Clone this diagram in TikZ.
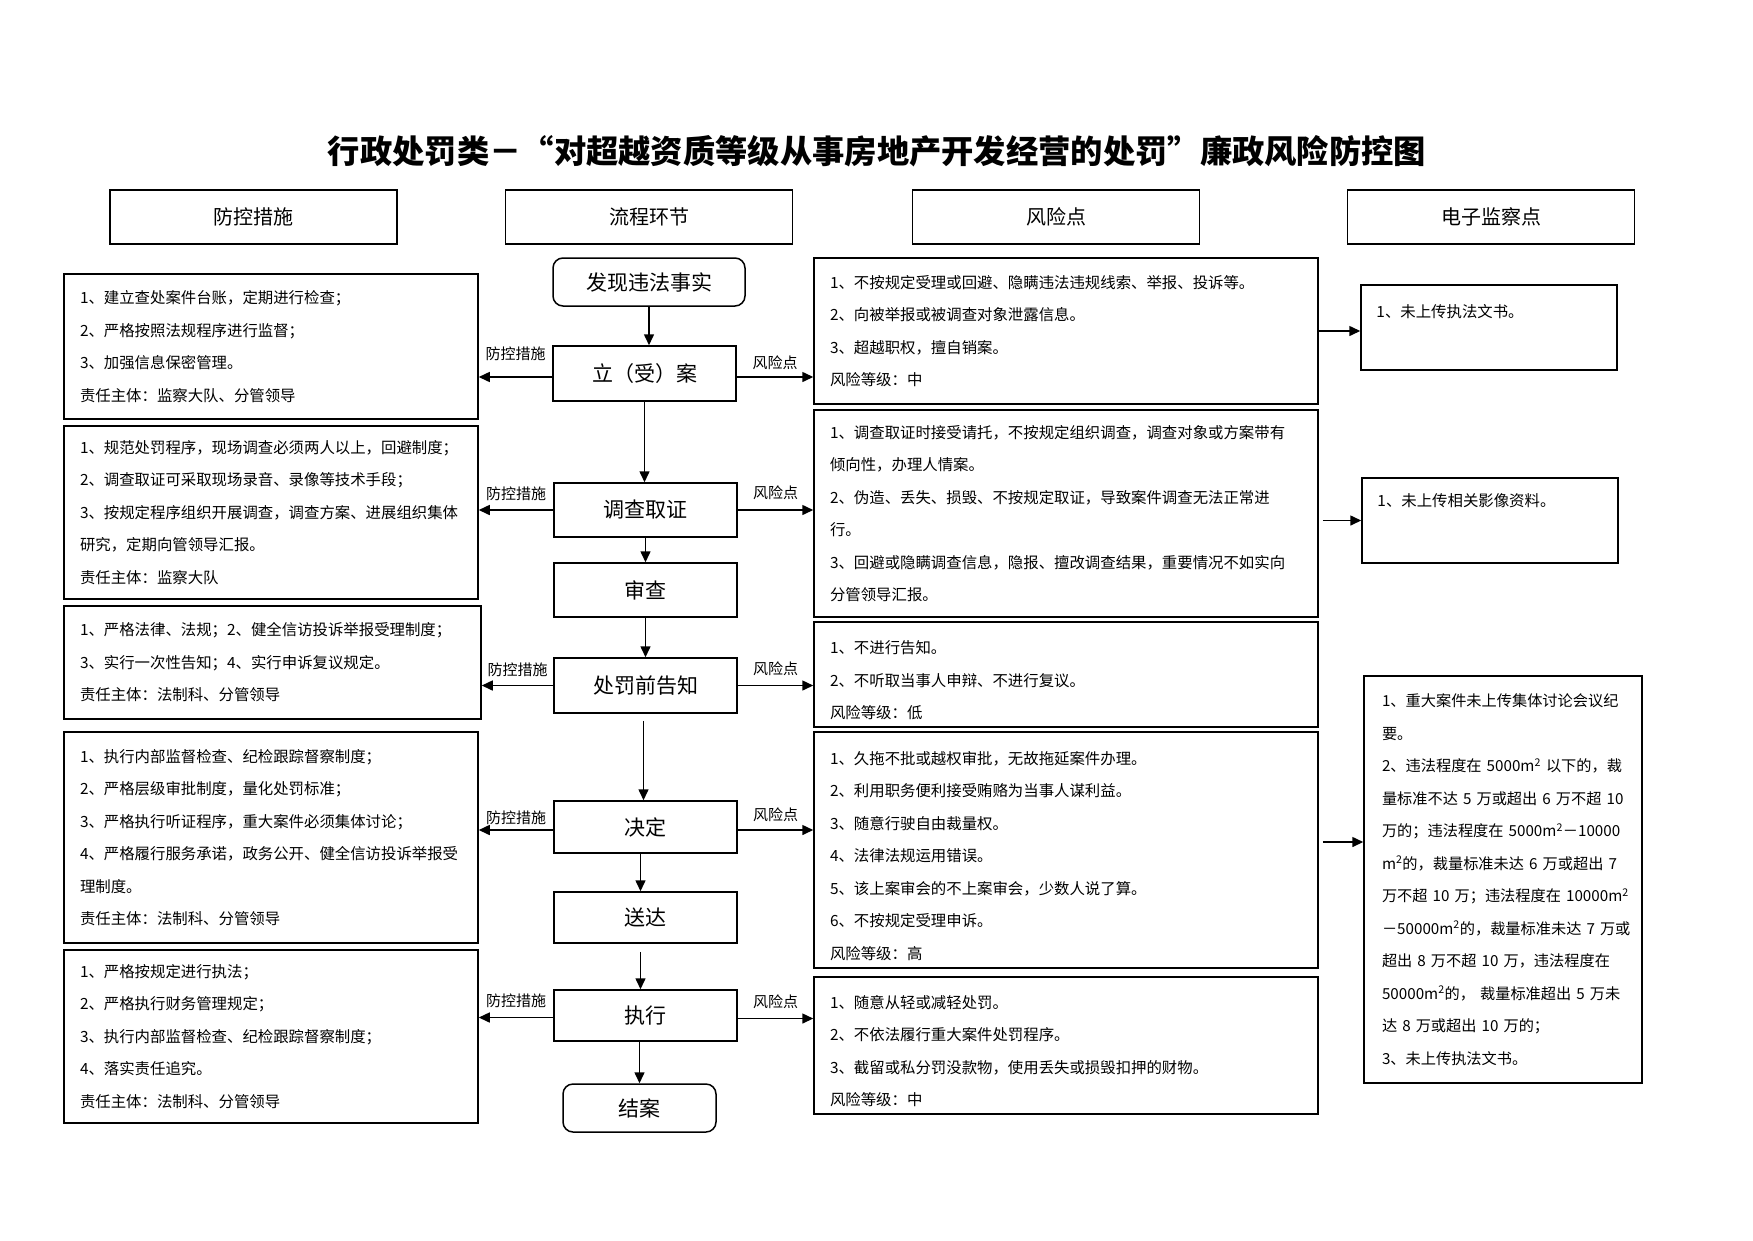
\documentclass[tikz,border=0pt]{standalone}
\usepackage{fontspec}
\setmainfont{Noto Sans CJK SC}
\usetikzlibrary{arrows.meta,calc}
\newcommand{\bodyfs}{\fontsize{15.4}{32.5}\selectfont}
\newcommand{\msq}{m\textsuperscript{2}}
\newcommand{\dn}{\rule{0pt}{24.5pt}}
\tikzset{
 tbox/.style={draw, line width=1.5pt, inner xsep=16pt, inner ysep=0pt, align=left, font=\bodyfs},
 ebox/.style={draw, line width=1.5pt, minimum width=256pt, minimum height=85pt},
 hbox/.style={draw, line width=1.4pt, minimum width=287pt, minimum height=54pt, font=\fontsize{20}{24}\selectfont},
 flow/.style={draw, line width=1.5pt, minimum width=183pt, minimum height=53pt, font=\fontsize{21}{25}\selectfont},
 rflow/.style={flow, rounded corners=10pt},
 arr/.style={line width=1.5pt, -{Triangle[length=11pt,width=10pt]}},
 lbl/.style={font=\fontsize{15}{18}\selectfont, inner sep=0pt},
}
\begin{document}
\begin{tikzpicture}[x=1pt,y=-1pt]
\fill[white] (0,0) rectangle (1753,1240);
\useasboundingbox (0,0) rectangle (1753,1240);

% title
\node[font=\fontsize{32.3}{36}\selectfont\bfseries] (title) at (877,151) {行政处罚类－“对超越资质等级从事房地产开发经营的处罚”廉政风险防控图};

% headers
\node[hbox] (h1) at (253.5,217) {防控措施};
\node[hbox] (h2) at (649,217) {流程环节};
\node[hbox] (h3) at (1056,217) {风险点};
\node[hbox] (h4) at (1491,217) {电子监察点};

% flow
\node[rflow, minimum width=192pt, minimum height=48pt] (f0) at (649,282) {发现违法事实};
\node[flow, minimum height=55pt] (f1) at (644.5,373.5) {立（受）案};
\node[flow, minimum height=54pt] (f2) at (645.5,510) {调查取证};
\node[flow, minimum height=54pt] (f3) at (645.5,590) {审查};
\node[flow, minimum height=55pt] (f4) at (645.5,685.5) {处罚前告知};
\node[flow, minimum height=52pt] (f5) at (645.5,827) {决定};
\node[flow, minimum height=51pt] (f6) at (645.5,917.5) {送达};
\node[flow, minimum height=51pt] (f7) at (645.5,1015.5) {执行};
\node[rflow, minimum width=153pt, minimum height=48pt] (f8) at (639.5,1108) {结案};

% left boxes
\node[tbox, text width=382pt, minimum height=145pt] (l1) at (271,346.5) {1、建立查处案件台账，定期进行检查；\\2、严格按照法规程序进行监督；\\3、加强信息保密管理。\\责任主体：监察大队、分管领导};
\node[tbox, text width=382pt, minimum height=173pt] (l2) at (271,512.5) {1、规范处罚程序，现场调查必须两人以上，回避制度；\\2、调查取证可采取现场录音、录像等技术手段；\\3、按规定程序组织开展调查，调查方案、进展组织集体\\研究，定期向管领导汇报。\\责任主体：监察大队};
\node[tbox, text width=385pt, minimum height=113pt] (l3) at (272.5,662.5) {1、严格法律、法规；2、健全信访投诉举报受理制度；\\3、实行一次性告知；4、实行申诉复议规定。\\责任主体：法制科、分管领导};
\node[tbox, text width=382pt, minimum height=211pt] (l4) at (271,837.5) {1、执行内部监督检查、纪检跟踪督察制度；\\2、严格层级审批制度，量化处罚标准；\\3、严格执行听证程序，重大案件必须集体讨论；\\4、严格履行服务承诺，政务公开、健全信访投诉举报受\\理制度。\\责任主体：法制科、分管领导};
\node[tbox, text width=382pt, minimum height=173pt] (l5) at (271,1036.5) {1、严格按规定进行执法；\\2、严格执行财务管理规定；\\3、执行内部监督检查、纪检跟踪督察制度；\\4、落实责任追究。\\责任主体：法制科、分管领导};

% right boxes
\node[tbox, text width=472pt, minimum height=146pt] (r1) at (1066,331) {1、不按规定受理或回避、隐瞒违法违规线索、举报、投诉等。\\2、向被举报或被调查对象泄露信息。\\3、超越职权，擅自销案。\\风险等级：中};
\node[tbox, text width=472pt, minimum height=207pt] (r2) at (1066,513.5) {1、调查取证时接受请托，不按规定组织调查，调查对象或方案带有\\倾向性，办理人情案。\\2、伪造、丢失、损毁、不按规定取证，导致案件调查无法正常进\\行。\\3、回避或隐瞒调查信息，隐报、擅改调查结果，重要情况不如实向\\分管领导汇报。};
\node[tbox, text width=472pt, minimum height=105pt] (r3) at (1066,674.5) {\dn 1、不进行告知。\\2、不听取当事人申辩、不进行复议。\\风险等级：低};
\node[tbox, text width=472pt, minimum height=236pt] (r4) at (1066,850) {\dn 1、久拖不批或越权审批，无故拖延案件办理。\\2、利用职务便利接受贿赂为当事人谋利益。\\3、随意行驶自由裁量权。\\4、法律法规运用错误。\\5、该上案审会的不上案审会，少数人说了算。\\6、不按规定受理申诉。\\风险等级：高};
\node[tbox, text width=472pt, minimum height=137pt] (r5) at (1066,1045.5) {\dn 1、随意从轻或减轻处罚。\\2、不依法履行重大案件处罚程序。\\3、截留或私分罚没款物，使用丢失或损毁扣押的财物。\\风险等级：中};

% e-supervision boxes
\node[ebox] (e1) at (1489,327.5) {};
\node[anchor=west, inner sep=0pt, font=\bodyfs] (e1t) at ($(e1.north west)+(16,27)$) {1、未上传执法文书。};
\node[ebox] (e2) at (1490,520.5) {};
\node[anchor=west, inner sep=0pt, font=\bodyfs] (e2t) at ($(e2.north west)+(16,23)$) {1、未上传相关影像资料。};
\node[tbox, inner xsep=18pt, text width=242pt, minimum height=407pt, font=\fontsize{15.2}{32.5}\selectfont] (e3) at (1503,879.5) {1、重大案件未上传集体讨论会议纪\\要。\\2、违法程度在~5000\msq{}~以下的，裁\\量标准不达~5~万或超出~6~万不超~10\\万的；违法程度在~5000\msq{}－10000\\\msq{}的，裁量标准未达~6~万或超出~7\\万不超~10~万；违法程度在~10000\msq\\－50000\msq{}的，裁量标准未达~7~万或\\超出~8~万不超~10~万，违法程度在\\50000\msq{}的，~裁量标准超出~5~万未\\达~8~万或超出~10~万的；\\3、未上传执法文书。};

% vertical flow arrows
\draw[arr] (f0.south) -- (f0.south |- f1.north);
\draw[arr] (f1.south) -- (f1.south |- f2.north);
\draw[arr] (f2.south) -- (f2.south |- f3.north);
\draw[arr] (f3.south) -- (f3.south |- f4.north);
\coordinate (v4) at ($(f4.south)+(-2,0)$);
\draw[arr, shorten <=7pt] (v4) -- (v4 |- f5.north);
\coordinate (v5) at ($(f5.south)+(-5,0)$);
\draw[arr] (v5) -- (v5 |- f6.north);
\coordinate (v6) at ($(f6.south)+(-5,0)$);
\draw[arr, shorten <=8pt] (v6) -- (v6 |- f7.north);
\draw[arr] (f8.north |- f7.south) -- (f8.north);

% horizontal arrows with labels
\coordinate (a1) at ($(f1.west)+(0,3.5)$);
\coordinate (b1) at ($(f1.east)+(0,3.5)$);
\draw[arr] (a1) -- (a1 -| l1.east) node[lbl, midway, above=15.5pt] {防控措施};
\draw[arr] (b1) -- (b1 -| r1.west) node[lbl, midway, above=6.5pt] {风险点};
\draw[arr] (f2.west) -- (f2.west -| l2.east) node[lbl, midway, above=8.5pt] {防控措施};
\draw[arr] (f2.east) -- (f2.east -| r2.west) node[lbl, midway, above=9.5pt] {风险点};
\draw[arr] (f4.west) -- (f4.west -| l3.east) node[lbl, midway, above=8.5pt] {防控措施};
\draw[arr] (f4.east) -- (f4.east -| r3.west) node[lbl, midway, above=9.5pt] {风险点};
\coordinate (a5) at ($(f5.west)+(0,3)$);
\coordinate (b5) at ($(f5.east)+(0,3)$);
\draw[arr] (a5) -- (a5 -| l4.east) node[lbl, midway, above=4.5pt] {防控措施};
\draw[arr] (b5) -- (b5 -| r4.west) node[lbl, midway, above=7.5pt] {风险点};
\coordinate (a7) at ($(f7.west)+(0,2)$);
\coordinate (b7) at ($(f7.east)+(0,3)$);
\draw[arr] (a7) -- (a7 -| l5.east) node[lbl, midway, above=9.5pt] {防控措施};
\draw[arr] (b7) -- (b7 -| r5.west) node[lbl, midway, above=9.5pt] {风险点};

% arrows to e-supervision boxes
\coordinate (e1in) at ($(e1.west)+(0,3.5)$);
\draw[arr] (r1.east |- e1in) -- (e1in);
\coordinate (e2s) at ($(r2.east)+(4,0)$);
\draw[arr] (e2s |- e2.west) -- (e2.west);
\coordinate (e3in) at ($(e3.west)+(0,-37.5)$);
\coordinate (e3s) at ($(r4.east)+(4,0)$);
\draw[arr] (e3s |- e3in) -- (e3in);
\end{tikzpicture}
\end{document}
